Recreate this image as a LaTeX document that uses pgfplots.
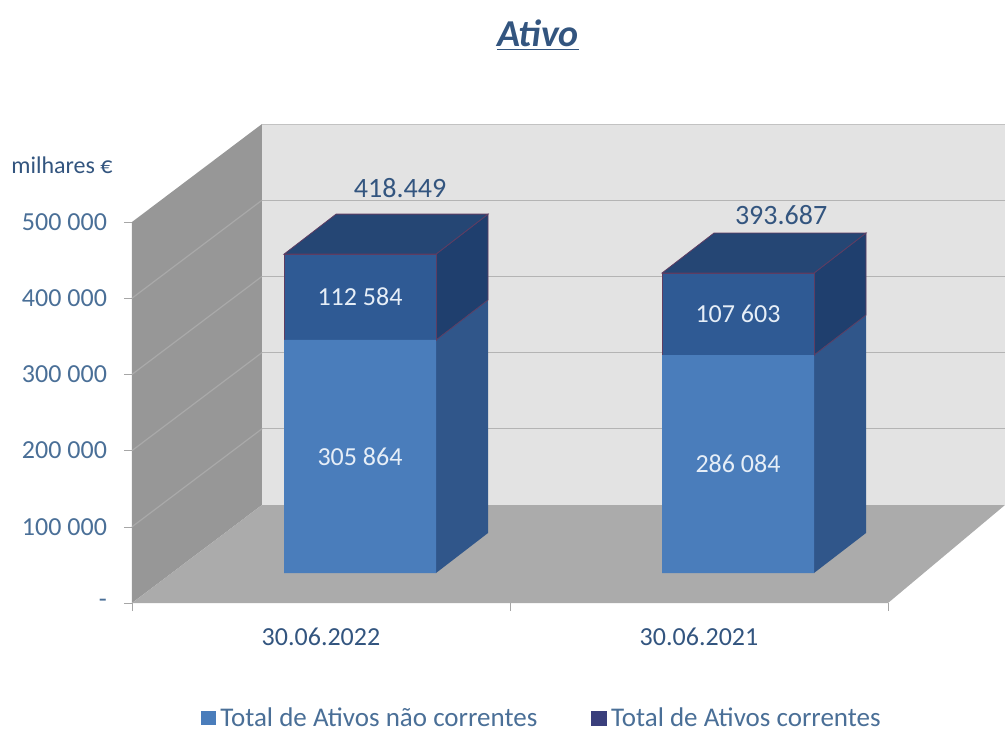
\documentclass[border=0pt]{standalone}
\usepackage{fontspec}
\setmainfont{Carlito}
\usepackage{pgfplots}
\usepackage{pgfplotstable}
\pgfplotsset{compat=1.18}

\definecolor{txt}{HTML}{4A6F97}
\definecolor{txtdark}{HTML}{33557F}
\definecolor{wallleft}{HTML}{979797}
\definecolor{wallback}{HTML}{E3E3E3}
\definecolor{floorc}{HTML}{ABABAB}
\definecolor{gridback}{HTML}{B4B4B4}
\definecolor{gridleft}{HTML}{A9A9A9}
\definecolor{lowfront}{HTML}{4A7DBB}
\definecolor{lowside}{HTML}{30568A}
\definecolor{upfront}{HTML}{2F5A94}
\definecolor{upside}{HTML}{1F3F6E}
\definecolor{uptop}{HTML}{254674}
\definecolor{upedge}{HTML}{5E3D62}
\definecolor{legup}{HTML}{3A3F7C}
\definecolor{barlabel}{HTML}{E6EEF7}

% x = categories, y = thousands of euros; 1 px of the reference = 0.5pt
\pgfplotsset{
    frame/.style={
        at={(66pt,63pt)}, anchor=south west,
        scale only axis, width=436.5pt, height=239.5pt,
    },
    bars plane/.style={
        frame, hide axis,
        xmin=-0.6032, xmax=1.7063,
        ymin=-39370, ymax=589240,
    },
}

\pgfplotstableread{
x  naocorr  corr
0  305864   112584
1  286084   107603
}\ativo

\begin{document}
\begin{tikzpicture}
\useasboundingbox (0,0) rectangle (502.5pt,364.5pt);

% walls, floor and grid
\begin{axis}[
    frame,
    xmin=-0.5, xmax=1.8095,
    ymin=0, ymax=628609,
    axis x line*=bottom, axis y line*=left,
    axis line style={draw=none},
    scaled y ticks=false,
    xtick={0,1}, xticklabels={30.06.2022,30.06.2021},
    minor xtick={-0.5,0.5,1.5},
    ytick={0,100000,200000,300000,400000,500000},
    yticklabels={-,100 000,200 000,300 000,400 000,500 000},
    tick align=outside,
    major tick length=4pt, minor tick length=4pt,
    major x tick style={draw=none},
    minor x tick style={draw=gray!70},
    major y tick style={draw=gray!70},
    y tick label style={font=\fontsize{13}{15}\selectfont, text=txt, xshift=-5pt},
    x tick label style={font=\fontsize{13}{15}\selectfont, text=txtdark, yshift=-5pt},
]
\addplot[fill=wallback, draw=none] coordinates {(-0.1561,128609)(1.8095,128609)(1.8095,628609)(-0.1561,628609)} --cycle;
\addplot[fill=wallleft, draw=none] coordinates {(-0.5,0)(-0.1561,128609)(-0.1561,628609)(-0.5,500000)} --cycle;
\addplot[fill=floorc, draw=none] coordinates {(-0.5,0)(1.5,0)(1.8095,128609)(-0.1561,128609)} --cycle;
% back wall grid
\addplot[gridback, line width=0.6pt] coordinates {(-0.1561,228609)(1.8095,228609)};
\addplot[gridback, line width=0.6pt] coordinates {(-0.1561,328609)(1.8095,328609)};
\addplot[gridback, line width=0.6pt] coordinates {(-0.1561,428609)(1.8095,428609)};
\addplot[gridback, line width=0.6pt] coordinates {(-0.1561,528609)(1.8095,528609)};
\addplot[gridback!70!wallback, line width=0.6pt] coordinates {(-0.1561,628609)(1.8095,628609)};
% left wall grid
\addplot[gridleft, line width=0.6pt] coordinates {(-0.5,100000)(-0.1561,228609)};
\addplot[gridleft, line width=0.6pt] coordinates {(-0.5,200000)(-0.1561,328609)};
\addplot[gridleft, line width=0.6pt] coordinates {(-0.5,300000)(-0.1561,428609)};
\addplot[gridleft, line width=0.6pt] coordinates {(-0.5,400000)(-0.1561,528609)};
\end{axis}

% bar sides and tops
\begin{axis}[bars plane]
\addplot[fill=lowside, draw=none] coordinates {(0.201,0)(0.3386,52493)(0.3386,358357)(0.201,305864)} --cycle;
\addplot[fill=upside, draw=upedge, line width=0.4pt] coordinates {(0.201,305864)(0.3386,358357)(0.3386,470941)(0.201,418448)} --cycle;
\addplot[fill=uptop, draw=upedge, line width=0.4pt] coordinates {(-0.201,418448)(-0.0634,470941)(0.3386,470941)(0.201,418448)} --cycle;
\addplot[fill=lowside, draw=none] coordinates {(1.201,0)(1.3386,52493)(1.3386,338577)(1.201,286084)} --cycle;
\addplot[fill=upside, draw=upedge, line width=0.4pt] coordinates {(1.201,286084)(1.3386,338577)(1.3386,446180)(1.201,393687)} --cycle;
\addplot[fill=uptop, draw=upedge, line width=0.4pt] coordinates {(0.799,393687)(0.9366,446180)(1.3386,446180)(1.201,393687)} --cycle;
\end{axis}

% bar fronts and legend
\begin{axis}[
    bars plane,
    ybar stacked,
    bar width=0.4021,
    legend columns=2,
    legend style={
        at={(0.079,-0.242)}, anchor=west, draw=none, fill=none, inner sep=0pt,
        font=\fontsize{13.5}{15}\selectfont, text=txt,
        /tikz/every even column/.append style={column sep=25pt},
    },
]
\addplot[fill=lowfront, draw=none,
    legend image code/.code={\fill[lowfront] (0pt,-3.2pt) rectangle (7.5pt,3.8pt);}]
    table[x=x, y=naocorr] {\ativo};
\addlegendentry{Total de Ativos não correntes}
\addplot[fill=upfront, draw=upedge, line width=0.4pt,
    legend image code/.code={\fill[legup] (0pt,-3.2pt) rectangle (7.5pt,3.8pt);}]
    table[x=x, y=corr] {\ativo};
\addlegendentry{Total de Ativos correntes}
\end{axis}

% value labels, above the stacked bars
\begin{axis}[bars plane]
\node[font=\fontsize{13}{15}\selectfont, text=barlabel] at (axis cs:0,152932) {305 864};
\node[font=\fontsize{13}{15}\selectfont, text=barlabel] at (axis cs:0,362156) {112 584};
\node[font=\fontsize{13}{15}\selectfont, text=barlabel] at (axis cs:1,143042) {286 084};
\node[font=\fontsize{13}{15}\selectfont, text=barlabel] at (axis cs:1,339885) {107 603};
\node[font=\fontsize{14}{16}\selectfont, text=txtdark] at (axis cs:0.106,505000) {418.449};
\node[font=\fontsize{14}{16}\selectfont, text=txtdark] at (axis cs:1.114,470000) {393.687};
\end{axis}

\node[font=\fontsize{12}{14}\selectfont, text=txtdark] at (31pt,282pt) {milhares €};
\node[font=\fontsize{19}{22}\selectfont\bfseries\itshape, text=txtdark] at (269pt,347pt) {\underline{Ativo}};
\end{tikzpicture}
\end{document}
